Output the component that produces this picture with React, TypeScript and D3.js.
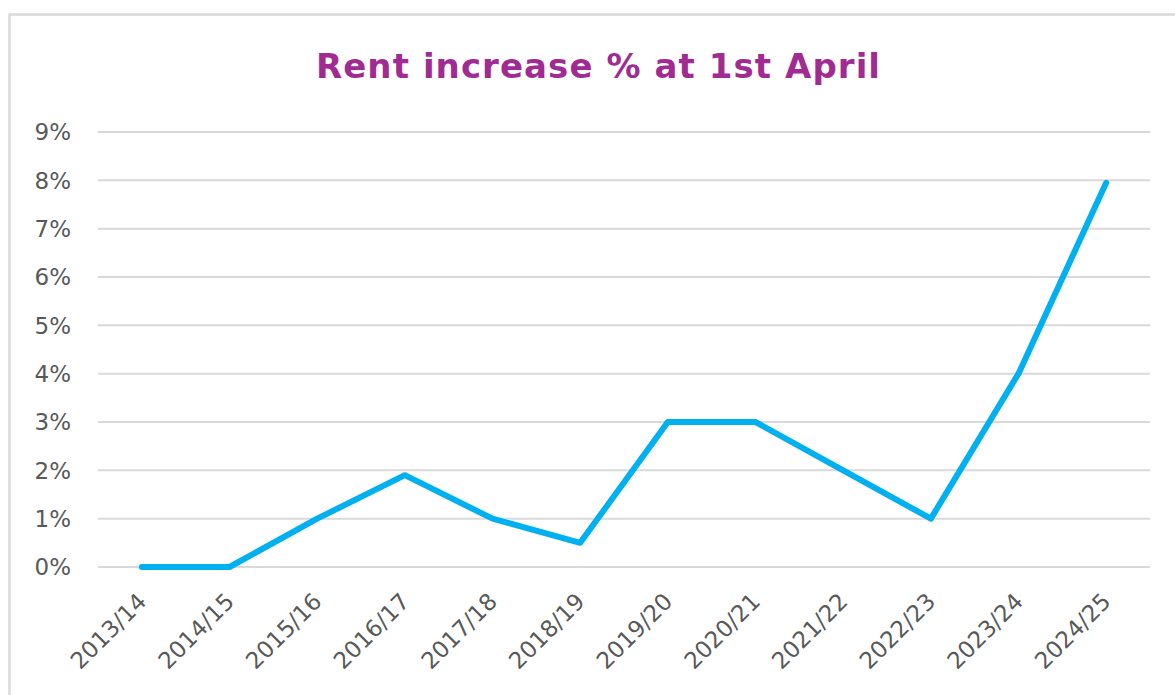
import React from "react";
import * as d3 from "d3";

const categories = ["2013/14","2014/15","2015/16","2016/17","2017/18","2018/19","2019/20","2020/21","2021/22","2022/23","2023/24","2024/25"];
const values = [0, 0, 1, 1.9, 1, 0.5, 3, 3, 2, 1, 4, 7.95];
const yTicks = [0,1,2,3,4,5,6,7,8,9];
const title = "Rent increase % at 1st April";

export default function App() {
  const W = 1175, H = 695;
  const left = 98, right = 1150, top = 132, bottom = 567;
  const x = d3.scalePoint<string>().domain(categories).range([left, right]).padding(0.5);
  const y = d3.scaleLinear().domain([0, 9]).range([bottom, top]);
  const line = d3.line<number>().x((_, i) => x(categories[i]) as number).y(d => y(d));
  const font = "DejaVu Sans, Verdana, sans-serif";
  return (
    <svg width={W} height={H} style={{ position: "absolute", left: 0, top: 0, background: "#fff" }}>
      <rect x={9.5} y={14.5} width={1300} height={800} fill="#fff" stroke="#d9d9d9" strokeWidth={2.5} />
      <text x={598} y={78} textAnchor="middle" fontFamily={font} fontWeight={700} fontSize={34}
        fill="#A02B93" textLength={564} lengthAdjust="spacing">{title}</text>
      {yTicks.map(t => (
        <g key={t}>
          <line x1={left} x2={right} y1={y(t)} y2={y(t)} stroke="#d9d9d9" strokeWidth={2} />
          <text x={71} y={y(t)} dy="0.36em" textAnchor="end" fontFamily={font} fontSize={23} fill="#595959">{t}%</text>
        </g>
      ))}
      {categories.map(c => {
        const px = (x(c) as number) + 6;
        const py = 603;
        return (
          <text key={c} x={px} y={py} textAnchor="end" fontFamily={font} fontSize={23} fill="#595959"
            transform={`rotate(-45 ${px} ${py})`}>{c}</text>
        );
      })}
      <path d={line(values) || ""} fill="none" stroke="#00B0F0" strokeWidth={6} strokeLinejoin="round" strokeLinecap="round" />
    </svg>
  );
}
